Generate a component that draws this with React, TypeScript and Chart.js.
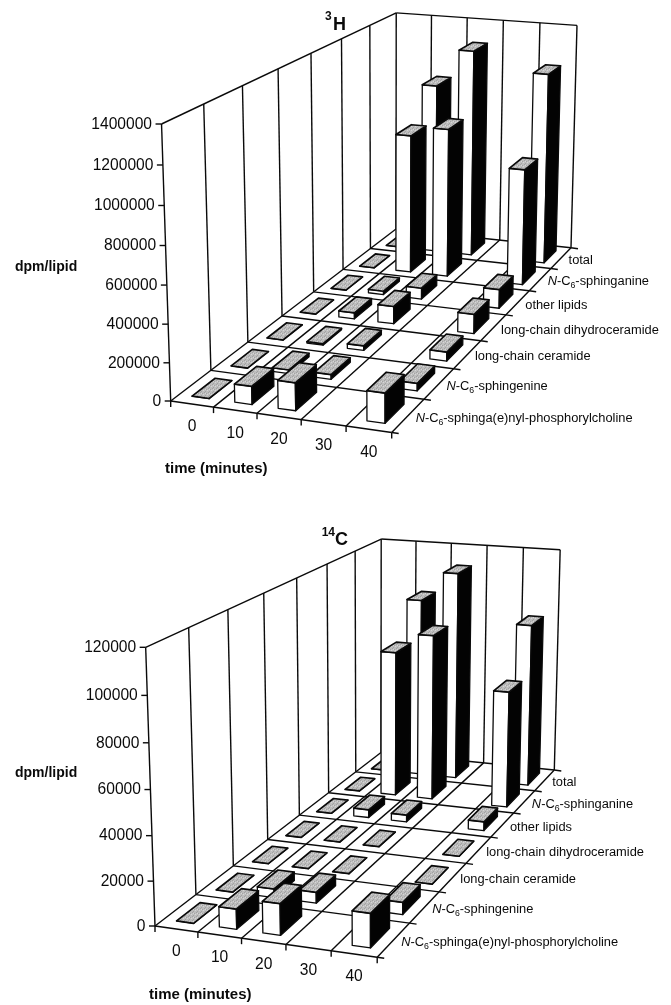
import React, { useEffect, useRef } from "react";
import { Chart, registerables } from "chart.js";

Chart.register(...registerables);

// ---- categories ----
const timeLabels = ["0", "10", "20", "30", "40"];
const lipidLabels = [
  "N-C6-sphinga(e)nyl-phosphorylcholine",
  "N-C6-sphingenine",
  "long-chain ceramide",
  "long-chain dihydroceramide",
  "other lipids",
  "N-C6-sphinganine",
  "total",
];

// ---- 3H values (dpm/lipid), one list per lipid, by time ----
const h3Phospho = [0, 95000, 145000, null, 155000];
const h3Sphingenine = [0, 20000, 25000, null, 40000];
const h3Ceramide = [0, 8000, 25000, null, 50000];
const h3Dihydro = [0, 35000, 100000, null, 110000];
const h3Other = [0, 20000, 65000, null, 110000];
const h3Sphinganine = [0, 835000, 893000, null, 695000];
const h3Total = [0, 1040000, 1270000, null, 1165000];

// ---- 14C values (dpm/lipid) ----
const c14Phospho = [0, 9000, 14000, null, 15000];
const c14Sphingenine = [0, 4000, 5000, null, 5500];
const c14Ceramide = [0, 0, 0, null, 0];
const c14Dihydro = [0, 0, 0, null, 0];
const c14Other = [0, 4000, 3500, null, 4500];
const c14Sphinganine = [0, 75200, 85500, null, 59800];
const c14Total = [0, 94500, 110000, null, 85500];

const h3Series = [h3Phospho, h3Sphingenine, h3Ceramide, h3Dihydro, h3Other, h3Sphinganine, h3Total];
const c14Series = [c14Phospho, c14Sphingenine, c14Ceramide, c14Dihydro, c14Other, c14Sphinganine, c14Total];

const FONT = '"Liberation Sans", Arial, sans-serif';
const INK = "#0a0a0a";

type Pt = [number, number];

function makeProjector(c: Pt[], topLeft: Pt, vanishY: number, vanishX: number) {
  const [p0, p1, p2, p3] = c;
  const dx1 = p1[0] - p2[0], dx2 = p3[0] - p2[0], sx = p0[0] - p1[0] + p2[0] - p3[0];
  const dy1 = p1[1] - p2[1], dy2 = p3[1] - p2[1], sy = p0[1] - p1[1] + p2[1] - p3[1];
  const det = dx1 * dy2 - dx2 * dy1;
  const g = (sx * dy2 - dx2 * sy) / det;
  const h = (dx1 * sy - sx * dy1) / det;
  const a = p1[0] - p0[0] + g * p1[0], b = p3[0] - p0[0] + h * p3[0], cc = p0[0];
  const d = p1[1] - p0[1] + g * p1[1], e = p3[1] - p0[1] + h * p3[1], f = p0[1];
  const k = (topLeft[1] - f) / (vanishY - topLeft[1]);
  return (u: number, s: number, v: number): Pt => {
    const w = g * u + h * s + 1 + k * v;
    return [
      (a * u + b * s + cc + k * vanishX * v) / w,
      (d * u + e * s + f + k * vanishY * v) / w,
    ];
  };
}

function makePattern(ctx: CanvasRenderingContext2D) {
  const p = document.createElement("canvas");
  p.width = 4;
  p.height = 4;
  const c = p.getContext("2d")!;
  c.fillStyle = "#bdbdbd";
  c.fillRect(0, 0, 4, 4);
  c.fillStyle = "#a2a2a2";
  c.fillRect(0, 0, 1, 1);
  c.fillRect(2, 1, 1, 1);
  c.fillRect(1, 3, 1, 1);
  c.fillStyle = "#d6d6d6";
  c.fillRect(3, 2, 1, 1);
  c.fillRect(1, 1, 1, 1);
  return ctx.createPattern(p, "repeat")!;
}

function drawLipidLabel(ctx: CanvasRenderingContext2D, text: string, x: number, y: number, size: number) {
  ctx.textAlign = "left";
  ctx.textBaseline = "alphabetic";
  ctx.fillStyle = INK;
  const m = text.match(/^N-C6-(.*)$/);
  const runs: [string, string, number][] = m
    ? [
        ["N", `italic ${size}px ${FONT}`, 0],
        ["-C", `${size}px ${FONT}`, 0],
        ["6", `${size * 0.68}px ${FONT}`, 3],
        ["-" + m[1], `${size}px ${FONT}`, 0],
      ]
    : [[text, `${size}px ${FONT}`, 0]];
  let cx = x;
  for (const [t, font, dy] of runs) {
    ctx.font = font;
    ctx.fillText(t, cx, y + dy);
    cx += ctx.measureText(t).width;
  }
}

type PanelCfg = {
  series: (number | null)[][];
  max: number;
  step: number;
  height: number;
  floor: Pt[];
  topLeft: Pt;
  vanish: Pt;
  supText: string;
  mainText: string;
  supPos: Pt;
  mainPos: Pt;
  yTitlePos: Pt;
  xTitlePos: Pt;
};

const h3Panel: PanelCfg = {
  series: h3Series,
  max: 1400000,
  step: 200000,
  height: 500,
  floor: [[170.7, 401], [391.7, 432.5], [571, 247.7], [396, 229]],
  topLeft: [162, 124],
  vanish: [389, 7000],
  supText: "3",
  mainText: "H",
  supPos: [325, 20],
  mainPos: [333, 30],
  yTitlePos: [15, 271],
  xTitlePos: [165, 473],
};

const c14Panel: PanelCfg = {
  series: c14Series,
  max: 120000,
  step: 20000,
  height: 505,
  floor: [[155, 426], [377.2, 457.3], [554.3, 270], [381, 252.5]],
  topLeft: [146.7, 147.3],
  vanish: [375, 7000],
  supText: "14",
  mainText: "C",
  supPos: [321.7, 36],
  mainPos: [335, 45],
  yTitlePos: [15, 277],
  xTitlePos: [149, 499],
};

function panelPlugin(cfg: PanelCfg) {
  return {
    id: "oblique3d",
    afterDatasetsDraw(chart: any) {
      const ctx: CanvasRenderingContext2D = chart.ctx;
      const xs = chart.scales.x, zs = chart.scales.z, ys = chart.scales.y;
      const nT = timeLabels.length, nS = lipidLabels.length;
      const project = makeProjector(cfg.floor, cfg.topLeft, cfg.vanish[1], cfg.vanish[0]);
      const span = xs.right - xs.left;
      const U = (i: number) => (xs.getPixelForValue(i) - xs.left) / span;
      const S = (i: number) => (zs.getPixelForValue(i) - zs.left) / span;
      const V = (val: number) => (ys.bottom - ys.getPixelForValue(val)) / (ys.bottom - ys.top);
      const uEdge = (i: number) => U(i - 0.5);
      const sEdge = (i: number) => S(i - 0.5);

      const line = (a: Pt, b: Pt) => {
        ctx.beginPath();
        ctx.moveTo(a[0], a[1]);
        ctx.lineTo(b[0], b[1]);
        ctx.stroke();
      };
      const poly = (pts: Pt[], fill: any, width: number) => {
        ctx.beginPath();
        pts.forEach((p, i) => (i ? ctx.lineTo(p[0], p[1]) : ctx.moveTo(p[0], p[1])));
        ctx.closePath();
        ctx.fillStyle = fill;
        ctx.fill();
        ctx.lineWidth = width;
        ctx.stroke();
      };

      ctx.save();
      ctx.strokeStyle = INK;
      ctx.lineWidth = 1.4;
      ctx.lineJoin = "round";

      // walls
      for (let i = 0; i <= nS; i++) line(project(0, sEdge(i), 0), project(0, sEdge(i), 1));
      for (let i = 1; i <= nT; i++) line(project(uEdge(i), 1, 0), project(uEdge(i), 1, 1));
      line(project(0, 0, 1), project(0, 1, 1));
      line(project(0, 1, 1), project(1, 1, 1));

      // floor grid with its tick marks
      for (let i = 0; i <= nS; i++) {
        const a = project(0, sEdge(i), 0);
        const b = project(1, sEdge(i), 0);
        line(a, b);
        line(b, [b[0] + 7, b[1] + 1]);
      }
      for (let i = 0; i <= nT; i++) {
        const a = project(uEdge(i), 0, 0);
        line(a, project(uEdge(i), 1, 0));
        line(a, [a[0], a[1] + 6]);
      }

      // bars, back to front
      const pattern = makePattern(ctx);
      const du = 0.2 / nT;
      const ds = 0.29 / nS;
      for (let si = nS - 1; si >= 0; si--) {
        const values = chart.data.datasets[si].data;
        for (let ti = 0; ti < nT; ti++) {
          const val = values[ti];
          if (val === null || val === undefined) continue;
          const u0 = U(ti) - du, u1 = U(ti) + du;
          const s0 = S(si) - ds, s1 = S(si) + ds;
          const v = V(val);
          poly([project(u0, s0, 0), project(u1, s0, 0), project(u1, s0, v), project(u0, s0, v)], "#ffffff", 1.3);
          poly([project(u1, s0, 0), project(u1, s1, 0), project(u1, s1, v), project(u1, s0, v)], "#030303", 1.3);
          poly([project(u0, s0, v), project(u1, s0, v), project(u1, s1, v), project(u0, s1, v)], pattern, 1.7);
        }
      }
      ctx.lineWidth = 1.4;

      // value axis ticks and labels, following the slanted edge
      ctx.fillStyle = INK;
      ctx.font = `15.6px ${FONT}`;
      ctx.textAlign = "right";
      ctx.textBaseline = "middle";
      ys.ticks.forEach((tk: any) => {
        const p = project(0, 0, V(tk.value));
        line([p[0] - 6, p[1]], p);
        ctx.fillText(String(tk.label), p[0] - 9.5, p[1] + 0.5);
      });

      // time labels
      ctx.textAlign = "center";
      xs.ticks.forEach((tk: any, i: number) => {
        const p = project(U(i), 0, 0);
        ctx.fillText(String(tk.label), p[0], p[1] + 23);
      });

      // lipid labels
      lipidLabels.forEach((name, i) => {
        const p = project(1, S(i), 0);
        drawLipidLabel(ctx, name, p[0] + 7.5, p[1] + 6, 12.85);
      });

      // axis titles and panel title
      ctx.textBaseline = "alphabetic";
      ctx.textAlign = "left";
      ctx.fillStyle = INK;
      ctx.font = `bold 14px ${FONT}`;
      ctx.fillText("dpm/lipid", cfg.yTitlePos[0], cfg.yTitlePos[1]);
      ctx.font = `bold 15px ${FONT}`;
      ctx.fillText("time (minutes)", cfg.xTitlePos[0], cfg.xTitlePos[1]);
      ctx.font = `bold 12px ${FONT}`;
      ctx.fillText(cfg.supText, cfg.supPos[0], cfg.supPos[1]);
      ctx.font = `bold 18px ${FONT}`;
      ctx.fillText(cfg.mainText, cfg.mainPos[0], cfg.mainPos[1]);
      ctx.restore();
    },
  };
}

function Panel({ cfg }: { cfg: PanelCfg }) {
  const ref = useRef<HTMLCanvasElement | null>(null);
  useEffect(() => {
    const f = cfg.floor;
    const chart = new Chart(ref.current!, {
      type: "line",
      data: {
        labels: timeLabels,
        datasets: lipidLabels.map((label, i) => ({
          label,
          data: cfg.series[i],
          showLine: false,
          pointRadius: 0,
          spanGaps: false,
        })),
      },
      options: {
        animation: false,
        responsive: false,
        devicePixelRatio: 1,
        layout: {
          padding: {
            left: f[0][0],
            right: 671 - f[1][0],
            top: cfg.topLeft[1],
            bottom: cfg.height - f[0][1],
          },
        },
        plugins: { legend: { display: false }, tooltip: { enabled: false }, title: { display: false } },
        scales: {
          x: { type: "category", offset: true, display: false, ticks: { autoSkip: false } },
          z: { axis: "x", type: "category", labels: lipidLabels, offset: true, display: false, ticks: { autoSkip: false } },
          y: {
            type: "linear",
            min: 0,
            max: cfg.max,
            display: false,
            ticks: { stepSize: cfg.step, callback: (v: any) => String(v) },
          },
        },
      },
      plugins: [panelPlugin(cfg)],
    } as any);
    return () => chart.destroy();
  }, [cfg]);
  return <canvas ref={ref} width={671} height={cfg.height} style={{ display: "block", width: 671, height: cfg.height }} />;
}

export default function App() {
  return (
    <div style={{ position: "absolute", left: 0, top: 0, width: 671, height: 1005, background: "#fff" }}>
      <Panel cfg={h3Panel} />
      <Panel cfg={c14Panel} />
    </div>
  );
}
